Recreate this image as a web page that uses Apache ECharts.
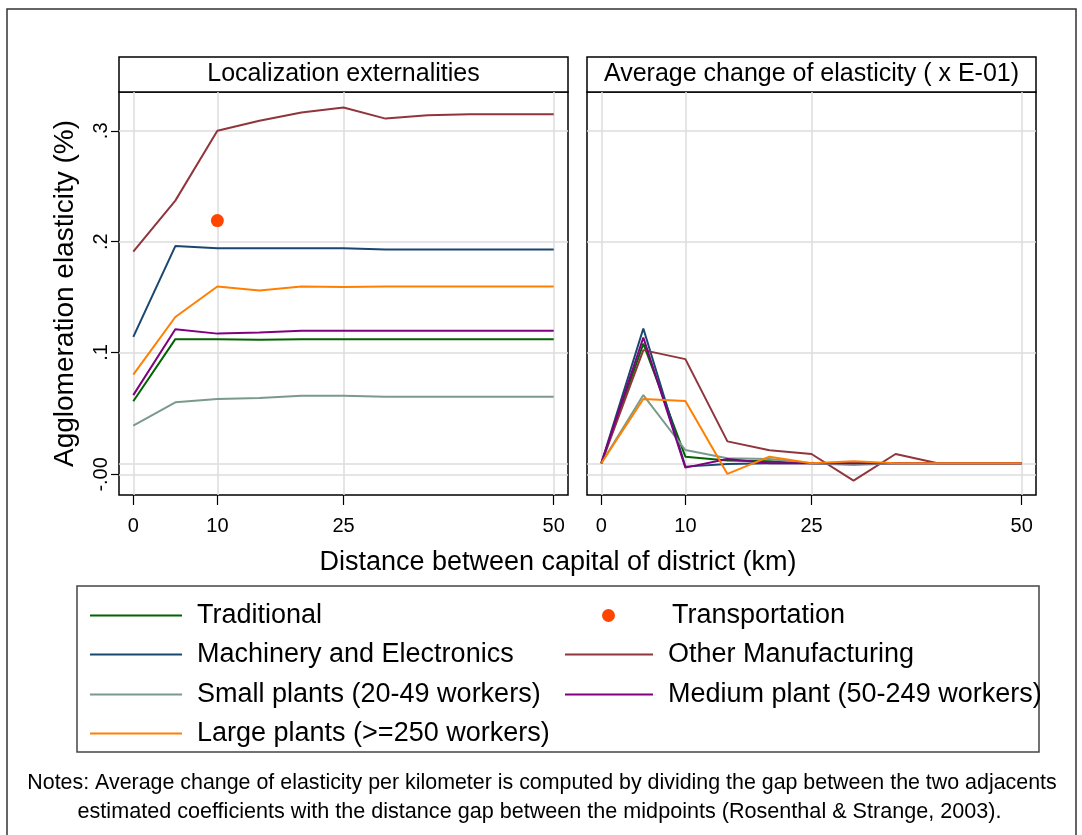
<!DOCTYPE html>
<html>
<head>
<meta charset="utf-8">
<script src="https://cdn.jsdelivr.net/npm/echarts@6/dist/echarts.min.js"></script>
<style>
html,body{margin:0;padding:0;background:#fff;}
#chart{width:1082px;height:835px;}
</style>
</head>
<body>
<div id="chart"></div>
<script>
// ---- data ----
const distance = [0, 5, 10, 15, 20, 25, 30, 35, 40, 45, 50];

// Left panel: Localization externalities
const traditional = [0.056, 0.112, 0.112, 0.1115, 0.112, 0.112, 0.112, 0.112, 0.112, 0.112, 0.112];
const machinery   = [0.114, 0.196, 0.194, 0.194, 0.194, 0.194, 0.193, 0.193, 0.193, 0.193, 0.193];
const smallPlants = [0.034, 0.055, 0.058, 0.059, 0.061, 0.061, 0.060, 0.060, 0.060, 0.060, 0.060];
const largePlants = [0.080, 0.132, 0.1595, 0.156, 0.1595, 0.159, 0.1595, 0.1595, 0.1595, 0.1595, 0.1595];
const otherManuf  = [0.191, 0.237, 0.300, 0.309, 0.3165, 0.321, 0.311, 0.314, 0.315, 0.315, 0.315];
const mediumPlant = [0.0615, 0.121, 0.117, 0.118, 0.1195, 0.1195, 0.1195, 0.1195, 0.1195, 0.1195, 0.1195];
const transportation = [[10, 0.219]];

// Right panel: Average change of elasticity (x E-01)
const traditionalChg = [0, 0.108, 0.006, 0.0025, 0.0018, 0, 0, 0, 0, 0, 0];
const machineryChg   = [0, 0.1216, -0.003, -0.0006, 0, 0, 0, 0, 0, 0, 0];
const smallChg       = [0, 0.0616, 0.012, 0.0045, 0.0039, 0, -0.0015, 0, 0, 0, 0];
const largeChg       = [0, 0.058, 0.0562, -0.0096, 0.006, 0, 0.0018, 0, 0, 0, 0];
const otherChg       = [0, 0.1021, 0.094, 0.0198, 0.0117, 0.0084, -0.0156, 0.0084, 0, 0, 0];
const mediumChg      = [0, 0.1135, -0.0039, 0.0039, 0, 0, 0, 0, 0, 0, 0];

// ticks
const xTicks = [0, 10, 25, 50];
const yTicks = [-0.01, 0, 0.1, 0.2, 0.3];
const yTickLabels = ['-.00', '0', '.1', '.2', '.3'];

const panelTitles = ['Localization externalities', 'Average change of elasticity ( x E-01)'];
const names = {
  trad: 'Traditional', tran: 'Transportation', mach: 'Machinery and Electronics',
  other: 'Other Manufacturing', small: 'Small plants (20-49 workers)',
  medium: 'Medium plant (50-249 workers)', large: 'Large plants (>=250 workers)'
};
const notes = [
  'Notes: Average change of elasticity per kilometer is computed by dividing the gap between the two adjacents',
  'estimated coefficients with the distance gap between the midpoints (Rosenthal & Strange, 2003).'
];

// ---- styling ----
const FONT = 'Liberation Sans';
const colors = {
  trad: '#006400', tran: '#ff4500', mach: '#1a476f', other: '#90353b',
  small: '#7b9a8c', medium: '#800080', large: '#ff8000'
};
const gridColor = '#dcdcdc';

function pairs(vals) { return distance.map((d, i) => [d, vals[i]]); }
function yFmt(v) {
  for (let i = 0; i < yTicks.length; i++) if (Math.abs(v - yTicks[i]) < 1e-9) return yTickLabels[i];
  return '';
}

const chart = echarts.init(document.getElementById('chart'), null, {renderer: 'canvas'});

const GL = {left: 119, top: 92, width: 449, height: 403};
const GR = {left: 587, top: 92, width: 449, height: 403};

function xAxisDef(gi) {
  return {
    type: 'value', gridIndex: gi, min: -1.7, max: 51.7, position: 'bottom',
    axisLine: {show: false, onZero: false},
    axisTick: {show: true, customValues: xTicks, length: 10, lineStyle: {color: '#000', width: 1.2}},
    axisLabel: {show: true, customValues: xTicks, margin: 21, color: '#000', fontSize: 20, fontFamily: FONT,
      hideOverlap: false},
    splitLine: {show: true, lineStyle: {color: gridColor, width: 1.5}}
  };
}
function yAxisDef(gi, labels) {
  return {
    type: 'value', gridIndex: gi, min: -0.0286, max: 0.335, position: 'left',
    axisLine: {show: false, onZero: false},
    axisTick: {show: labels, customValues: yTicks, length: 8, lineStyle: {color: '#000', width: 1.2}},
    axisLabel: {show: labels, customValues: yTicks, formatter: yFmt, rotate: 90, margin: 8,
      color: '#000', fontSize: 20, fontFamily: FONT, hideOverlap: false, showMinLabel: true, showMaxLabel: true},
    splitLine: {show: true, lineStyle: {color: gridColor, width: 1.5}},
    name: labels ? 'Agglomeration elasticity (%)' : '',
    nameLocation: 'middle', nameRotate: 90, nameGap: 40,
    nameTextStyle: {fontSize: 28, fontFamily: FONT, color: '#000'}
  };
}

function lineSeries(name, vals, key, gi) {
  return {
    type: 'line', name: name, xAxisIndex: gi, yAxisIndex: gi,
    data: pairs(vals), symbol: 'none', silent: true, animation: false,
    lineStyle: {color: colors[key], width: 2}, itemStyle: {color: colors[key]}
  };
}

const series = [
  lineSeries(names.trad, traditional, 'trad', 0),
  lineSeries(names.mach, machinery, 'mach', 0),
  lineSeries(names.small, smallPlants, 'small', 0),
  lineSeries(names.large, largePlants, 'large', 0),
  lineSeries(names.other, otherManuf, 'other', 0),
  lineSeries(names.medium, mediumPlant, 'medium', 0),
  {
    type: 'scatter', name: names.tran, xAxisIndex: 0, yAxisIndex: 0,
    data: transportation, symbol: 'circle', symbolSize: 13, animation: false,
    itemStyle: {color: colors.tran, opacity: 1}
  },
  lineSeries(names.trad, traditionalChg, 'trad', 1),
  lineSeries(names.mach, machineryChg, 'mach', 1),
  lineSeries(names.other, otherChg, 'other', 1),
  lineSeries(names.small, smallChg, 'small', 1),
  lineSeries(names.medium, mediumChg, 'medium', 1),
  lineSeries(names.large, largeChg, 'large', 1)
];

// legend: two columns, row-wise order
const rowY = [613, 652, 692, 731];
function legendItem(name, col, row, isDot) {
  if (isDot) {
    return {
      data: [name], left: 602, top: rowY[row] - 11, padding: 0,
      itemWidth: 13, itemHeight: 13, selectedMode: false, icon: 'circle',
      itemStyle: {opacity: 1},
      textStyle: {fontSize: 27, fontFamily: FONT, color: '#000', padding: [0, 0, 0, 52]}
    };
  }
  const lx = col === 0 ? 90 : 565;
  const w = col === 0 ? 92 : 88;
  return {
    data: [name], left: lx, top: rowY[row] - 11, padding: 0,
    itemWidth: w, itemHeight: 2, selectedMode: false, icon: 'rect',
    textStyle: {fontSize: 27, fontFamily: FONT, color: '#000', padding: [0, 0, 0, 10]}
  };
}
const legends = [
  legendItem(names.trad, 0, 0), legendItem(names.tran, 1, 0, true),
  legendItem(names.mach, 0, 1), legendItem(names.other, 1, 1),
  legendItem(names.small, 0, 2), legendItem(names.medium, 1, 2),
  legendItem(names.large, 0, 3)
];

function headerBox(g, title) {
  return [
    {type: 'rect', shape: {x: g.left, y: 57, width: g.width, height: 35},
     style: {fill: '#fff', stroke: '#000', lineWidth: 1.5}, silent: true},
    {type: 'text', x: g.left + g.width / 2, y: 74.5,
     style: {text: title, fontSize: 25, fontFamily: FONT, fill: '#000', align: 'center', verticalAlign: 'middle'}, silent: true}
  ];
}

const option = {
  backgroundColor: '#fff',
  animation: false,
  grid: [
    Object.assign({show: true, borderColor: '#000', borderWidth: 1.5, backgroundColor: 'transparent'}, GL),
    Object.assign({show: true, borderColor: '#000', borderWidth: 1.5, backgroundColor: 'transparent'}, GR)
  ],
  xAxis: [xAxisDef(0), xAxisDef(1)],
  yAxis: [yAxisDef(0, true), yAxisDef(1, false)],
  legend: legends,
  series: series,
  graphic: [
    {type: 'rect', shape: {x: 7, y: 9, width: 1069, height: 840},
     style: {fill: 'none', stroke: '#333', lineWidth: 1.5}, silent: true, z: -1},
    ...headerBox(GL, panelTitles[0]),
    ...headerBox(GR, panelTitles[1]),
    {type: 'text', x: 558, y: 563,
     style: {text: 'Distance between capital of district (km)', fontSize: 27, fontFamily: FONT,
       fill: '#000', align: 'center', verticalAlign: 'middle'}, silent: true},
    {type: 'rect', shape: {x: 77, y: 586, width: 962, height: 166},
     style: {fill: 'none', stroke: '#444', lineWidth: 1.5}, silent: true, z: -1},
    {type: 'text', x: 542, y: 783,
     style: {text: notes[0], fontSize: 21.4, fontFamily: FONT, fill: '#000', align: 'center', verticalAlign: 'middle'}, silent: true},
    {type: 'text', x: 539.5, y: 812,
     style: {text: notes[1], fontSize: 21.6, fontFamily: FONT, fill: '#000', align: 'center', verticalAlign: 'middle'}, silent: true}
  ]
};
chart.setOption(option);
</script>
</body>
</html>
